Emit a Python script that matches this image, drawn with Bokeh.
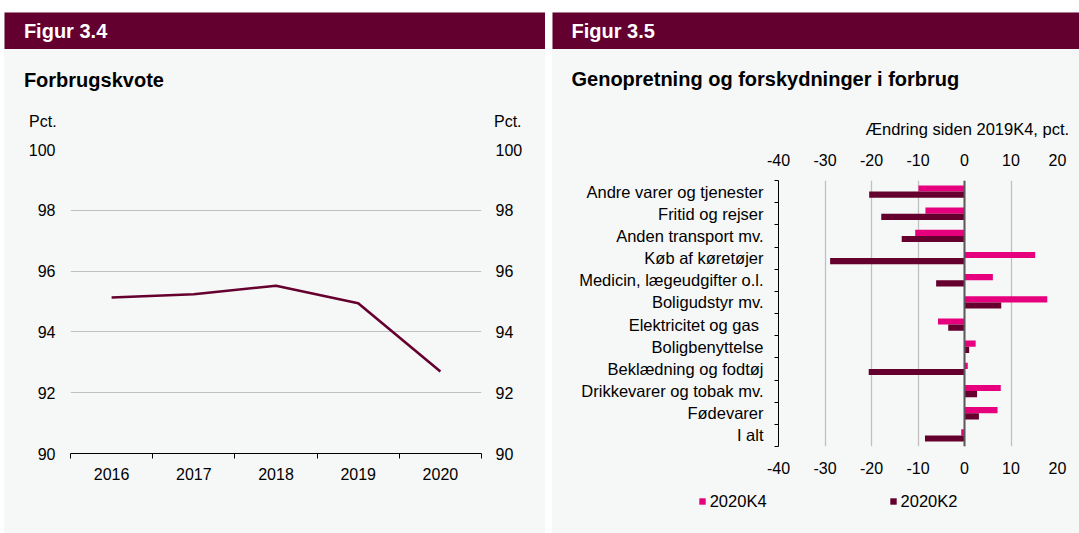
from bokeh.plotting import figure
from bokeh.models import (Range1d, FixedTicker, LinearAxis, Label, Span, Legend,
                          LegendItem, ColumnDataSource, Spacer)
from bokeh.layouts import row, column
from bokeh.embed import file_html
from bokeh.resources import INLINE
from bokeh.core.validation import silence
from bokeh.core.validation.warnings import MISSING_RENDERERS

silence(MISSING_RENDERERS, True)

FONT = "Liberation Sans"
MAROON = "#63002f"
LINE = "#65002e"
PINK = "#e6007e"
DARK = "#65002e"
BG = "#f6f7f7"
GRID = "#c0c0c0"

# ---------------- Figur 3.4 data ----------------
years = ["2016", "2017", "2018", "2019", "2020"]
forbrugskvote = [95.13, 95.24, 95.52, 94.94, 92.70]
left_y_ticks = [90, 92, 94, 96, 98, 100]

# ---------------- Figur 3.5 data ----------------
categories = [
    "Andre varer og tjenester",
    "Fritid og rejser",
    "Anden transport mv.",
    "Køb af køretøjer",
    "Medicin, lægeudgifter o.l.",
    "Boligudstyr mv.",
    "Elektricitet og gas ",
    "Boligbenyttelse",
    "Beklædning og fodtøj",
    "Drikkevarer og tobak mv.",
    "Fødevarer",
    "I alt",
]
k4_2020 = [-9.9, -8.4, -10.6, 15.2, 6.1, 17.8, -5.7, 2.4, 0.7, 7.8, 7.1, -0.7]
k2_2020 = [-20.5, -17.9, -13.5, -28.9, -6.1, 7.9, -3.5, 1.0, -20.6, 2.7, 3.1, -8.5]
series_names = ["2020K4", "2020K2"]
right_x_ticks = [-40, -30, -20, -10, 0, 10, 20]


def blank(width, height, fill):
    b = figure(width=width, height=height, x_range=Range1d(0, 1), y_range=Range1d(0, 1),
               toolbar_location=None, output_backend="svg",
               x_axis_location=None, y_axis_location=None, min_border=0,
               background_fill_color=fill, border_fill_color=fill,
               outline_line_color=None)
    b.grid.visible = False
    b.frame_align = False
    return b


def header(text, width, text_x):
    h = blank(width, 37, MAROON)
    h.add_layout(Label(x=text_x, y=19, x_units="screen", y_units="screen", text=text,
                       text_color="white", text_font=FONT, text_font_style="bold",
                       text_font_size="20px", text_baseline="middle"))
    return h


def txt(x, y, text, size="16px", bold=False, align="left"):
    return Label(x=x, y=y, x_units="screen", y_units="screen", text=text,
                 text_font=FONT, text_font_size=size,
                 text_font_style="bold" if bold else "normal",
                 text_align=align, text_baseline="middle", text_color="#000000")


def style_axis(ax, size="16px"):
    ax.major_label_text_font = FONT
    ax.major_label_text_font_size = size
    ax.major_label_text_color = "#000000"


# ================= Left panel (page x 4..545) =================
LW = 541
hdr_l = header("Figur 3.4", LW, 19.4)

ttl_l = blank(LW, 86, BG)
ttl_l.add_layout(txt(19.4, 55.7, "Forbrugskvote", "20px", bold=True))
ttl_l.add_layout(txt(24.6, 14.3, "Pct."))
ttl_l.add_layout(txt(489.5, 14.3, "Pct."))

pl = figure(width=LW, height=398, x_range=Range1d(0, len(years)), y_range=Range1d(90, 100),
            toolbar_location=None, output_backend="svg",
            min_border_left=66, min_border_right=64, min_border_top=14, min_border_bottom=80,
            background_fill_color=BG, border_fill_color=BG, outline_line_color=None)
pl.frame_align = False

x_centers = [i + 0.5 for i in range(len(years))]
src_l = ColumnDataSource(dict(x=x_centers, y=forbrugskvote, year=years))
pl.line(x="x", y="y", source=src_l, line_color=LINE, line_width=2.6)

xa = pl.xaxis[0]
xa.ticker = FixedTicker(ticks=x_centers, minor_ticks=list(range(len(years) + 1)))
xa.major_label_overrides = {c: yv for c, yv in zip(x_centers, years)}
xa.axis_line_color = "#000000"
xa.major_tick_line_color = None
xa.major_tick_out = 0
xa.major_tick_in = 0
xa.minor_tick_line_color = "#000000"
xa.minor_tick_out = 5
xa.minor_tick_in = 0
xa.major_label_standoff = 9
style_axis(xa)

ya = pl.yaxis[0]
ya.ticker = FixedTicker(ticks=left_y_ticks)
ya.axis_line_color = None
ya.major_tick_line_color = None
ya.minor_tick_line_color = None
ya.major_tick_out = 0
ya.major_label_standoff = 15
style_axis(ya)

ya2 = LinearAxis(ticker=FixedTicker(ticks=left_y_ticks), axis_line_color=None,
                 major_tick_line_color=None, minor_tick_line_color=None,
                 major_tick_out=0, major_label_standoff=14)
style_axis(ya2)
pl.add_layout(ya2, "right")

pl.xgrid.visible = False
pl.ygrid.ticker = FixedTicker(ticks=left_y_ticks)
pl.ygrid.grid_line_color = GRID
pl.ygrid.grid_line_width = 1

# ================= Right panel (page x 552..1079) =================
RW = 527
hdr_r = header("Figur 3.5", RW, 19)

ttl_r = blank(RW, 91, BG)
ttl_r.add_layout(txt(19, 61.2, "Genopretning og forskydninger i forbrug", "20px", bold=True))
ttl_r.add_layout(txt(516.6, 11.7, "Ændring siden 2019K4, pct.", "16.5px", align="right"))

n = len(categories)
pr = figure(width=RW, height=345, x_range=Range1d(right_x_ticks[0], right_x_ticks[-1]),
            y_range=Range1d(n, 0), x_axis_location="above",
            toolbar_location=None, output_backend="svg",
            min_border_left=226, min_border_right=22, min_border_top=40, min_border_bottom=39,
            background_fill_color=BG, border_fill_color=BG, outline_line_color=None)
pr.frame_align = False

centers = [i + 0.5 for i in range(n)]
bar_h = 0.28
src_r = ColumnDataSource(dict(
    cat=categories, k4=k4_2020, k2=k2_2020,
    y_k4=[c - bar_h / 2 for c in centers],
    y_k2=[c + bar_h / 2 for c in centers],
))

pr.xgrid.ticker = FixedTicker(ticks=right_x_ticks)
pr.xgrid.grid_line_color = GRID
pr.xgrid.grid_line_width = 1.3
pr.ygrid.visible = False

r4 = pr.hbar(y="y_k4", left=0, right="k4", height=bar_h, source=src_r,
             fill_color=PINK, line_color=None)
r2 = pr.hbar(y="y_k2", left=0, right="k2", height=bar_h, source=src_r,
             fill_color=DARK, line_color=None)

pr.add_layout(Span(location=0, dimension="height", line_color="#5a5a5a", line_width=2))

x_labels = {t: str(t) for t in right_x_ticks}

top = pr.xaxis[0]
top.ticker = FixedTicker(ticks=right_x_ticks)
top.major_label_overrides = x_labels
top.axis_line_color = None
top.major_tick_line_color = None
top.minor_tick_line_color = None
top.major_tick_out = 0
top.major_label_standoff = 15
style_axis(top)

bot = LinearAxis(ticker=FixedTicker(ticks=right_x_ticks), axis_line_color=None,
                 major_label_overrides=x_labels,
                 major_tick_line_color=None, minor_tick_line_color=None,
                 major_tick_out=0, major_label_standoff=15)
style_axis(bot)
pr.add_layout(bot, "below")

ca = pr.yaxis[0]
ca.ticker = FixedTicker(ticks=centers, minor_ticks=list(range(n + 1)))
ca.major_label_overrides = {c: name for c, name in zip(centers, categories)}
ca.axis_line_color = "#000000"
ca.major_tick_line_color = None
ca.major_tick_out = 0
ca.major_tick_in = 0
ca.minor_tick_line_color = "#000000"
ca.minor_tick_out = 4
ca.minor_tick_in = 0
ca.major_label_standoff = 11
style_axis(ca, "16.5px")

# legend strip below the chart (page y 485..533); its swatch renderers sit
# outside the strip's visible range so only the legend keys show
leg_fig = blank(RW, 48, BG)
lg4 = leg_fig.hbar(y=[-5], left=[0], right=[0], height=1, fill_color=PINK, line_color=None)
lg2 = leg_fig.hbar(y=[-5], left=[0], right=[0], height=1, fill_color=DARK, line_color=None)
legend = Legend(items=[LegendItem(label=series_names[0], renderers=[lg4]),
                       LegendItem(label=series_names[1], renderers=[lg2])],
                orientation="horizontal", location=(145.7, 22.3),
                background_fill_alpha=0, border_line_color=None,
                glyph_width=8, glyph_height=8, label_height=8, label_standoff=4,
                spacing=122, padding=0, margin=0,
                label_text_font=FONT, label_text_font_size="16.5px",
                label_text_color="#000000")
leg_fig.add_layout(legend)

panel_style = {"background-color": BG}
layout = column(
    Spacer(height=12),
    row(Spacer(width=4),
        column(hdr_l, ttl_l, pl, styles=panel_style),
        Spacer(width=7),
        column(hdr_r, ttl_r, pr, leg_fig, styles=panel_style)),
)

with open("out.html", "w") as f:
    f.write(file_html(layout, INLINE))
